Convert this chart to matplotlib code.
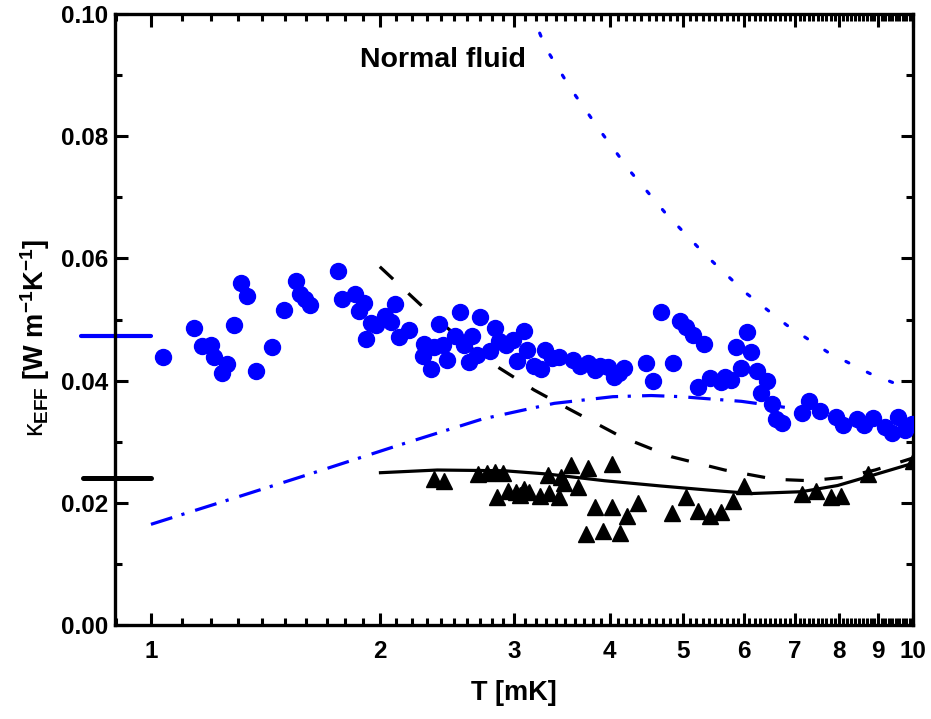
import numpy as np
import matplotlib
matplotlib.use("Agg")
import matplotlib.pyplot as plt
from matplotlib.ticker import FixedLocator, NullFormatter

plt.rcParams['font.family'] = ['Liberation Sans', 'DejaVu Sans']
plt.rcParams['mathtext.fontset'] = 'custom'
plt.rcParams['mathtext.rm'] = 'Liberation Sans:bold'
plt.rcParams['mathtext.bf'] = 'Liberation Sans:bold'
plt.rcParams['mathtext.it'] = 'Liberation Sans'

BLUE = '#0000ff'

# superfluid points (blue circles), T [mK], kappa [W/m/K]
circ_T = [1.038, 1.139, 1.168, 1.199, 1.210, 1.260, 1.239, 1.285, 1.312, 1.336,
          1.375, 1.442, 1.493, 1.550, 1.571, 1.595, 1.619, 1.762, 1.782, 1.851,
          1.902, 1.874, 1.942, 1.977, 2.028, 2.063, 1.917, 2.088, 2.115, 2.181,
          2.282, 2.275, 2.328, 2.352, 2.420, 2.388, 2.444, 2.506, 2.548, 2.576,
          2.636, 2.618, 2.677, 2.707, 2.787, 2.827, 2.864, 2.925, 2.983, 3.022,
          3.090, 3.118, 3.179, 3.250, 3.289, 3.363, 3.435, 3.581, 3.658, 3.744,
          3.827, 3.890, 3.978, 4.051, 4.120, 4.182, 4.467, 4.559, 4.665, 4.843,
          4.951, 5.042, 5.145, 5.320, 5.224, 5.411, 5.595, 5.675, 5.779, 5.868,
          5.945, 6.053, 6.140, 6.253, 6.426, 6.329, 6.524, 6.603, 6.724, 7.159,
          7.312, 7.551, 7.919, 8.105, 8.438, 8.637, 8.878, 9.196, 9.384, 9.556,
          9.770, 9.970]
circ_k = [0.04381, 0.04861, 0.04561, 0.04583, 0.04386, 0.04277, 0.04124, 0.04910, 0.05602, 0.05390,
          0.04157, 0.04545, 0.05155, 0.05625, 0.05412, 0.05336, 0.05237, 0.05799, 0.05340, 0.05412,
          0.05265, 0.05139, 0.04948, 0.04905, 0.05057, 0.04964, 0.04681, 0.05259, 0.04719, 0.04828,
          0.04599, 0.04403, 0.04185, 0.04555, 0.04583, 0.04931, 0.04337, 0.04730, 0.05118, 0.04583,
          0.04730, 0.04300, 0.04419, 0.05046, 0.04484, 0.04866, 0.04653, 0.04583, 0.04664, 0.04316,
          0.04817, 0.04506, 0.04239, 0.04185, 0.04501, 0.04375, 0.04391, 0.04337, 0.04239, 0.04283,
          0.04173, 0.04239, 0.04228, 0.04064, 0.04120, 0.04201, 0.04293, 0.03998, 0.05123, 0.04288,
          0.04975, 0.04882, 0.04746, 0.04599, 0.03890, 0.04038, 0.03982, 0.04064, 0.04010, 0.04555,
          0.04201, 0.04800, 0.04473, 0.04152, 0.03998, 0.03792, 0.03617, 0.03367, 0.03301, 0.03475,
          0.03666, 0.03507, 0.03409, 0.03273, 0.03367, 0.03273, 0.03393, 0.03245, 0.03137, 0.03409,
          0.03191, 0.03290]

# black triangles
tri_T = [2.352, 2.425, 2.688, 2.759, 2.827, 2.902, 2.850, 2.938, 3.013, 3.090,
         3.137, 3.052, 3.243, 3.332, 3.435, 3.322, 3.453, 3.487, 3.559, 3.632,
         3.744, 4.026, 3.827, 4.026, 4.356, 4.217, 3.725, 3.917, 4.132, 4.829,
         5.035, 5.229, 5.411, 5.607, 5.809, 6.010, 7.143, 7.464, 7.807, 8.057,
         8.726, 9.990]
tri_k = [0.02385, 0.02362, 0.02471, 0.02493, 0.02504, 0.02483, 0.02100, 0.02198, 0.02182, 0.02221,
         0.02182, 0.02128, 0.02111, 0.02155, 0.02100, 0.02455, 0.02427, 0.02319, 0.02619, 0.02264,
         0.02565, 0.02635, 0.01926, 0.01926, 0.01992, 0.01784, 0.01489, 0.01543, 0.01501, 0.01833,
         0.02095, 0.01874, 0.01784, 0.01854, 0.02038, 0.02283, 0.02152, 0.02198, 0.02100, 0.02111,
         0.02471, 0.02684]

# normal fluid curve (blue dotted)
normal_T = [3.15, 3.299, 3.559, 3.897, 4.260, 4.736, 5.330, 6.030, 6.828, 7.745, 8.770, 9.95]
normal_k = [0.1005, 0.0944, 0.0877, 0.0807, 0.0742, 0.0674, 0.0607, 0.0544, 0.0491, 0.0446, 0.0412, 0.0385]

# blue dash-dot curve
dashdot_T = [1.0, 1.283, 1.627, 2.105, 2.723, 3.383, 4.039, 4.535, 4.966, 5.957, 6.792]
dashdot_k = [0.01648, 0.02074, 0.02483, 0.02935, 0.03372, 0.03628, 0.03737, 0.03756, 0.03737, 0.03661, 0.03563]

# black dashed curve
dashed_T = [1.997, 2.328, 2.736, 3.184, 3.524, 4.141, 4.818, 5.663, 6.590, 7.325, 8.105, 8.920, 9.97]
dashed_k = [0.05864, 0.0509, 0.04365, 0.03846, 0.03547, 0.03082, 0.02755, 0.02537, 0.02385, 0.02362, 0.02417, 0.02537, 0.02728]

# black solid curve
solid_T = [2.001, 2.376, 2.908, 3.316, 3.937, 4.675, 5.385, 6.140, 7.143, 7.965, 8.834, 9.98]
solid_k = [0.02493, 0.02537, 0.02525, 0.02471, 0.02362, 0.02275, 0.02209, 0.02152, 0.02182, 0.02283, 0.02447, 0.02643]

# low temperature limits (marks at the left)
limit_blue = 0.0473
limit_black = 0.0240

fig = plt.figure(figsize=(9.31, 7.19), dpi=100)
ax = fig.add_axes([0.1235, 0.1307, 0.857, 0.8498])

ax.plot(normal_T, normal_k, color=BLUE, lw=2.3, dashes=(1.0, 6.5), dash_capstyle='round')
ax.plot(dashdot_T, dashdot_k, color=BLUE, lw=2.3, dashes=(7, 3, 1, 3.5))
ax.plot(dashed_T, dashed_k, color='black', lw=2.3, dashes=(5.7, 6.5))
ax.plot(solid_T, solid_k, color='black', lw=2.3)

ax.plot(circ_T, circ_k, 'o', color=BLUE, ms=11.5, mec=BLUE, zorder=3)
ax.plot(tri_T, tri_k, '^', color='black', ms=12, zorder=3)

ax.plot([0.81, 1.0], [limit_blue, limit_blue], color=BLUE, lw=3, clip_on=False, solid_capstyle='round')
ax.plot([0.815, 1.0], [limit_black, limit_black], color='black', lw=3.6, clip_on=False, solid_capstyle='round')

ax.text(2.418, 0.0925, 'Normal fluid', ha='center', va='center', fontsize=20.5, fontweight='bold')

ax.set_xscale('log')
ax.set_xlim(0.897, 10.0)
ax.set_ylim(0, 0.1)

ax.xaxis.set_major_locator(FixedLocator(range(1, 11)))
ax.xaxis.set_minor_locator(FixedLocator([v / 10 for v in range(9, 100) if v % 10]))
ax.xaxis.set_minor_formatter(NullFormatter())
ax.set_xticklabels([str(i) for i in range(1, 11)])
ax.set_yticks([0.0, 0.02, 0.04, 0.06, 0.08, 0.10])
ax.set_yticklabels(['0.00', '0.02', '0.04', '0.06', '0.08', '0.10'])
ax.yaxis.set_minor_locator(FixedLocator([0.01, 0.03, 0.05, 0.07, 0.09]))

ax.tick_params(which='both', direction='in', top=True, right=True, width=2.2,
               labelsize=17.5)
ax.tick_params(axis='x', which='major', pad=11)
ax.tick_params(axis='y', which='major', pad=5)
ax.tick_params(which='major', length=9)
ax.tick_params(which='minor', length=5)
for lab in ax.get_xticklabels() + ax.get_yticklabels():
    lab.set_fontweight('bold')
for sp in ax.spines.values():
    sp.set_linewidth(2.4)

ax.set_xlabel('T [mK]', fontsize=19.5, fontweight='bold', labelpad=12)
ax.set_ylabel(r'$\kappa_{\mathbf{EFF}}$ [W m$^{-1}$K$^{-1}$]', fontsize=19.5, fontweight='bold')
ax.yaxis.set_label_coords(-0.079, 0.47)

fig.savefig('out.png', dpi=100)
